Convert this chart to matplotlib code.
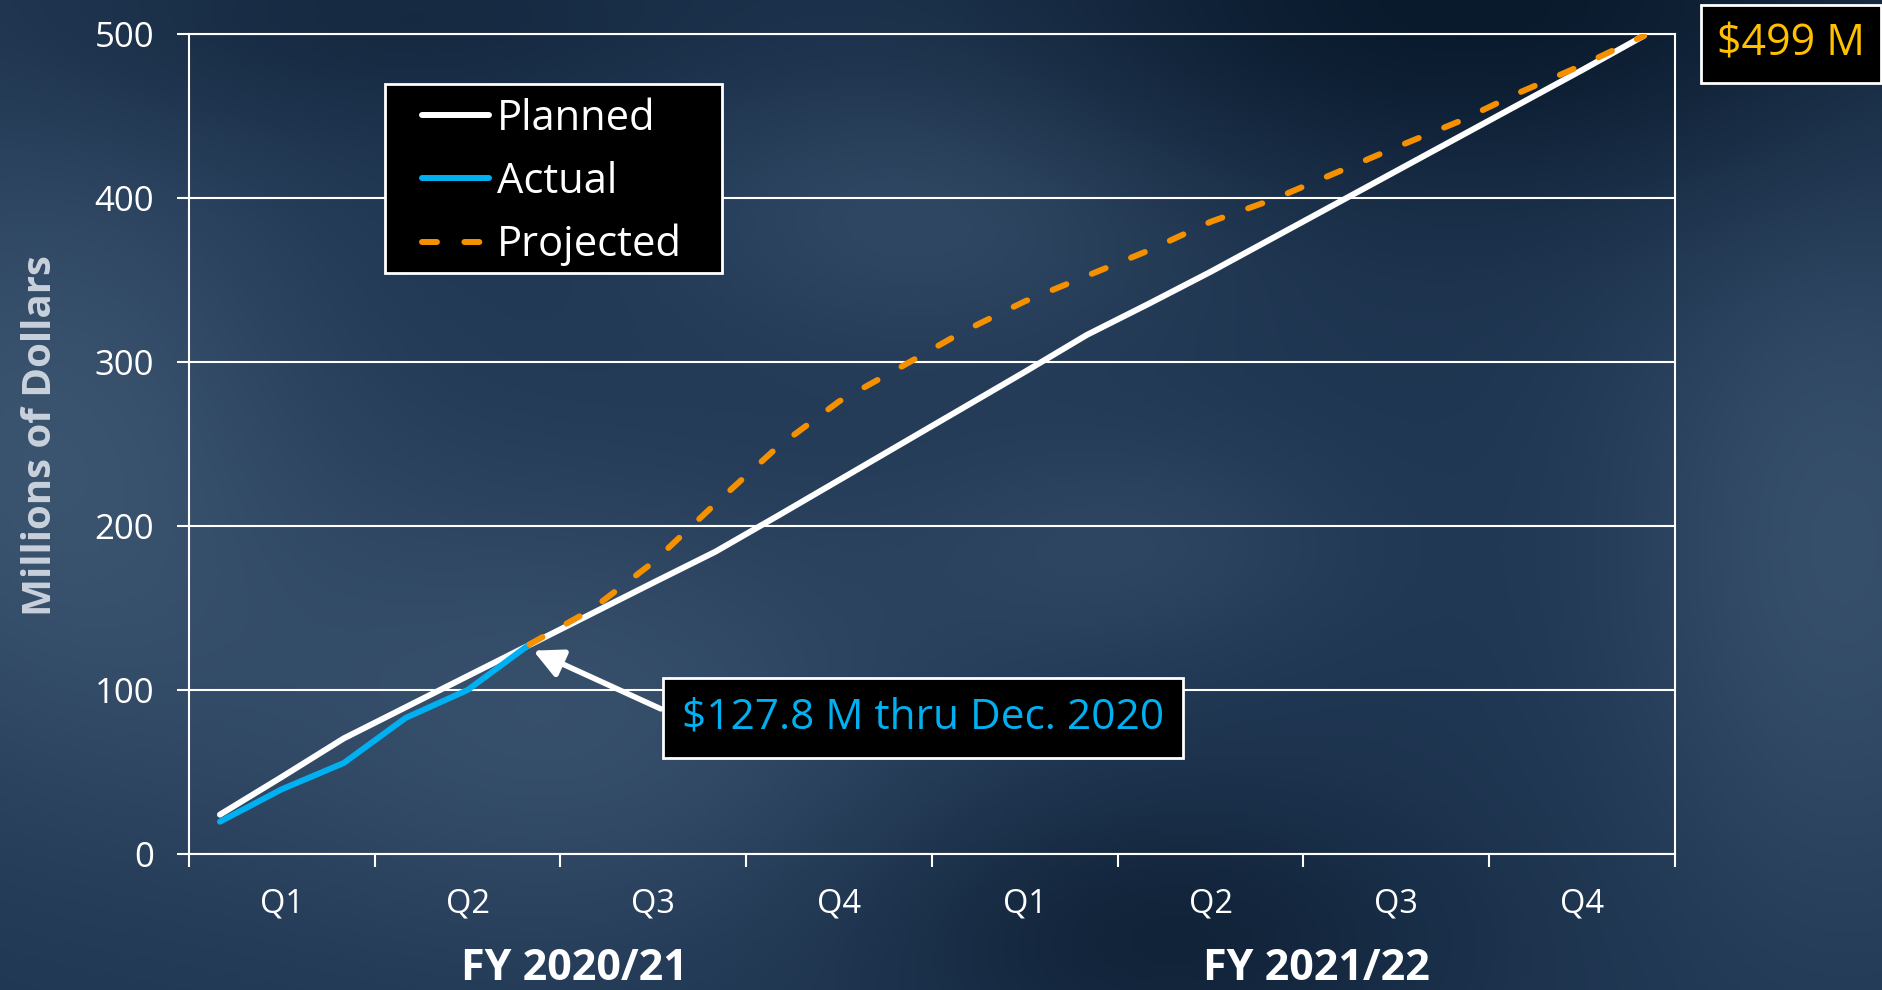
import numpy as np
import matplotlib
matplotlib.use('Agg')
import matplotlib.pyplot as plt
from matplotlib.lines import Line2D
from matplotlib.patches import Rectangle

plt.rcParams['font.family'] = ['Open Sans', 'DejaVu Sans']

# monthly cumulative spend, millions of dollars (24 months, FY 2020/21 + FY 2021/22)
planned = [24, 47, 70.5, 89.5, 108.5, 127.5, 146.5, 165.5, 184.3, 206, 228, 250,
           272, 294, 316.5, 335.5, 355, 375.5, 396, 416.5, 437, 457.5, 478, 499]
actual = [19.7, 39.5, 55.5, 83, 100, 127.8]
projected = [127.8, 149, 178, 213.5, 248, 276, 297, 318.5, 337, 352.5, 368, 385.5,
             399, 415, 431, 446.5, 464.5, 481, 499]
quarters = ['Q1', 'Q2', 'Q3', 'Q4', 'Q1', 'Q2', 'Q3', 'Q4']
fiscal_years = ['FY 2020/21', 'FY 2021/22']
yticks = [0, 100, 200, 300, 400, 500]

W, H = 1883, 990
fig = plt.figure(figsize=(W/100, H/100), dpi=100)

# slide background: dark blue with soft lighter patches
yy, xx = np.mgrid[0:1:300j, 0:1:560j]
def blob(cx, cy, sx, sy):
    return np.exp(-(((xx-cx)/sx)**2 + ((yy-cy)/sy)**2))
base = np.array([0.12, 0.21, 0.32])
light = np.array([0.25, 0.35, 0.46])
dark = np.array([0.03, 0.09, 0.16])
lw_ = (0.8*blob(0.02, 0.45, 0.15, 0.35) + 0.7*blob(0.3, 0.72, 0.2, 0.25)
       + 0.6*blob(0.5, 0.2, 0.15, 0.15) + 0.7*blob(0.98, 0.55, 0.12, 0.4)
       + 0.4*blob(0.6, 0.55, 0.12, 0.12))
dw_ = (0.9*blob(0.78, 0.0, 0.25, 0.2) + 0.6*blob(0.62, 0.95, 0.15, 0.15)
       + 0.4*blob(0.2, 0.02, 0.2, 0.12))
lw_ = np.clip(lw_, 0, 1)[..., None]
dw_ = np.clip(dw_, 0, 1)[..., None]
img = base*(1-lw_) + light*lw_
img = img*(1-dw_) + dark*dw_
bg = fig.add_axes([0, 0, 1, 1])
bg.imshow(img, extent=[0, 1, 0, 1], aspect='auto', origin='upper')
bg.axis('off')

ax = fig.add_axes([189/W, 1-854/H, (1675-189)/W, (854-34)/H])
ax.patch.set_alpha(0)

x_all = np.arange(len(planned)) + 0.5
x_act = x_all[:len(actual)]
x_proj = x_all[len(actual)-1:]

ax.plot(x_all, planned, color='white', lw=4.3, solid_capstyle='round', zorder=3)
ax.plot(x_act, actual, color='#00B0F0', lw=4.3, solid_capstyle='round', zorder=4)
ax.plot(x_proj, projected, color='#F59100', lw=4.3, dashes=(2.5, 4.6),
        dash_capstyle='round', zorder=5)

ax.set_xlim(0, 24)
ax.set_ylim(0, 500)
ax.set_yticks(yticks)
ax.set_xticks(np.arange(0, 25, 3))
ax.set_xticklabels([])
ax.set_xticks(np.arange(1.5, 24, 3), minor=True)
ax.set_xticklabels(quarters, minor=True)
ax.tick_params(axis='x', which='major', direction='out', length=9, width=1.5, color='white')
ax.tick_params(axis='x', which='minor', length=0, pad=24, labelsize=23.5, labelcolor='white')
ax.tick_params(axis='y', direction='out', length=9, width=1.5, color='white',
               labelsize=25, labelcolor='white', pad=16)
ax.grid(axis='y', color='white', lw=1.5)
for s in ax.spines.values():
    s.set_color('white')
    s.set_linewidth(1.5)

# legend: black box drawn as a patch, entries placed inside it
ax.add_patch(Rectangle((385/W, 1-273/H), (722-385)/W, (273-84)/H, transform=fig.transFigure,
                       fc='black', ec='white', lw=2, zorder=6, clip_on=False))
handles = [Line2D([], [], color='white', lw=4.3, solid_capstyle='round'),
           Line2D([], [], color='#00B0F0', lw=4.3, solid_capstyle='round'),
           Line2D([], [], color='#F59100', lw=4.3, dashes=(2.5, 4.6), dash_capstyle='round')]
leg = ax.legend(handles, ['Planned', 'Actual', 'Projected'], loc='center left',
                bbox_to_anchor=(422/W, 1-182/H), bbox_transform=fig.transFigure,
                fontsize=30, labelcolor='white', frameon=False, handlelength=1.6,
                handletextpad=0.2, labelspacing=0.5, borderpad=0, borderaxespad=0)
leg.set_zorder(7)

ax.annotate('', xy=(5.56, 124), xytext=(7.62, 88.5),
            arrowprops=dict(arrowstyle='-|>,head_length=0.7,head_width=0.35', color='white',
                            lw=4, mutation_scale=25, shrinkA=0, shrinkB=0), zorder=6)
ax.text(11.85, 83, '$127.8 M thru Dec. 2020', ha='center', va='center', fontsize=30.5,
        color='#00B0F0', zorder=7,
        bbox=dict(boxstyle='square,pad=0.45', fc='black', ec='white', lw=2))

fig.text(1717/W, 1-44/H, '$499 M', color='#FFC000', fontsize=31, ha='left', va='center',
         bbox=dict(boxstyle='square,pad=0.38', fc='black', ec='white', lw=2))

fig.text(41/W, 1-436/H, 'Millions of Dollars', rotation=90, fontsize=29, fontweight='bold',
         color='#c9d1dc', ha='center', va='center')
fig.text(574/W, 1-969/H, fiscal_years[0], fontsize=31, fontweight='bold', color='white',
         ha='center', va='center')
fig.text(1316/W, 1-969/H, fiscal_years[1], fontsize=31, fontweight='bold', color='white',
         ha='center', va='center')

fig.savefig('out.png', dpi=100)
